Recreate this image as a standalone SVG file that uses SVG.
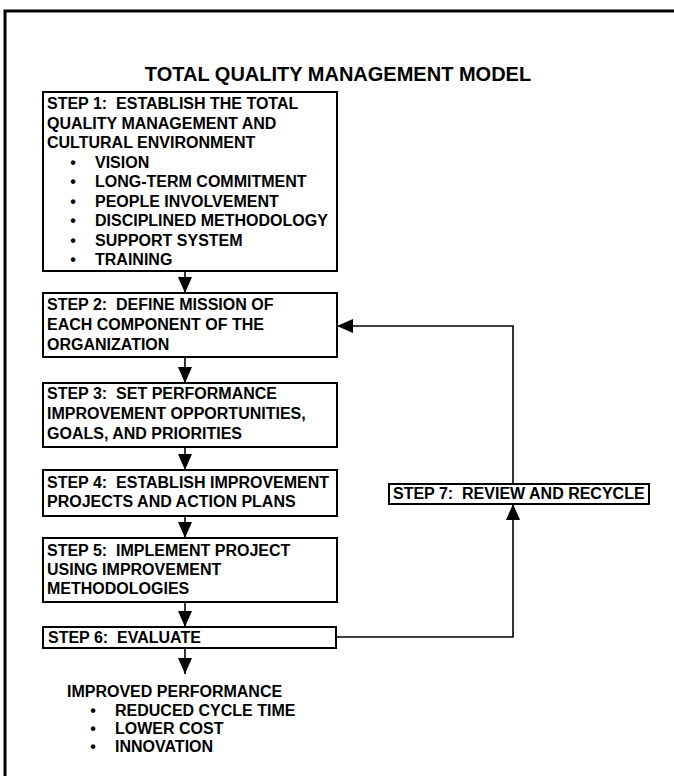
<svg xmlns="http://www.w3.org/2000/svg" width="674" height="776" viewBox="0 0 674 776">
<defs>
<style>
.t{font-family:"Liberation Sans",Arial,sans-serif;font-weight:bold;font-size:16px;fill:#000;white-space:pre}
.title{font-family:"Liberation Sans",Arial,sans-serif;font-weight:bold;font-size:20px;fill:#000}
.box{fill:#fff;stroke:#000;stroke-width:2}
.ln{fill:none;stroke:#000;stroke-width:1.6}
.ah{fill:#000}
</style>
<marker id="arr" viewBox="0 0 16 16" refX="16" refY="8" markerWidth="16" markerHeight="16" markerUnits="userSpaceOnUse" orient="auto">
<path d="M0,1 L16,8 L0,15 Z" class="ah"/>
</marker>
</defs>
<rect x="0" y="0" width="674" height="776" fill="#fff"/>
<path d="M5,776 V11 H674" fill="none" stroke="#000" stroke-width="3"/>
<text class="title" x="338" y="81" text-anchor="middle">TOTAL QUALITY MANAGEMENT MODEL</text>

<g id="connectors">
<line class="ln" x1="185" y1="271" x2="185" y2="293" marker-end="url(#arr)"/>
<line class="ln" x1="185" y1="357" x2="185" y2="383" marker-end="url(#arr)"/>
<line class="ln" x1="185" y1="447" x2="185" y2="470" marker-end="url(#arr)"/>
<line class="ln" x1="185" y1="516" x2="185" y2="538" marker-end="url(#arr)"/>
<line class="ln" x1="185" y1="602" x2="185" y2="627" marker-end="url(#arr)"/>
<line class="ln" x1="185" y1="648" x2="185" y2="674" marker-end="url(#arr)"/>
<path class="ln" d="M336,637 H513 V504" marker-end="url(#arr)"/>
<path class="ln" d="M513,484 V326 H337" marker-end="url(#arr)"/>
</g>

<g id="step1">
<rect class="box" x="43" y="92" width="294" height="179"/>
<text class="t" x="47" y="109" xml:space="preserve">STEP 1:  ESTABLISH THE TOTAL</text>
<text class="t" x="47" y="128.5">QUALITY MANAGEMENT AND</text>
<text class="t" x="47" y="148">CULTURAL ENVIRONMENT</text>
<text class="t" x="73" y="167.5" text-anchor="middle">•</text><text class="t" x="95" y="167.5">VISION</text>
<text class="t" x="73" y="187" text-anchor="middle">•</text><text class="t" x="95" y="187">LONG-TERM COMMITMENT</text>
<text class="t" x="73" y="206.5" text-anchor="middle">•</text><text class="t" x="95" y="206.5">PEOPLE INVOLVEMENT</text>
<text class="t" x="73" y="226" text-anchor="middle">•</text><text class="t" x="95" y="226">DISCIPLINED METHODOLOGY</text>
<text class="t" x="73" y="245.5" text-anchor="middle">•</text><text class="t" x="95" y="245.5">SUPPORT SYSTEM</text>
<text class="t" x="73" y="265" text-anchor="middle">•</text><text class="t" x="95" y="265">TRAINING</text>
</g>

<g id="step2">
<rect class="box" x="43" y="293" width="294" height="64"/>
<text class="t" x="47" y="310" xml:space="preserve">STEP 2:  DEFINE MISSION OF</text>
<text class="t" x="47" y="330">EACH COMPONENT OF THE</text>
<text class="t" x="47" y="350">ORGANIZATION</text>
</g>

<g id="step3">
<rect class="box" x="43" y="383" width="294" height="64"/>
<text class="t" x="47" y="399" xml:space="preserve">STEP 3:  SET PERFORMANCE</text>
<text class="t" x="47" y="419">IMPROVEMENT OPPORTUNITIES,</text>
<text class="t" x="47" y="439">GOALS, AND PRIORITIES</text>
</g>

<g id="step4">
<rect class="box" x="43" y="470" width="294" height="46"/>
<text class="t" x="47" y="488" xml:space="preserve">STEP 4:  ESTABLISH IMPROVEMENT</text>
<text class="t" x="47" y="507">PROJECTS AND ACTION PLANS</text>
</g>

<g id="step5">
<rect class="box" x="43" y="538" width="294" height="64"/>
<text class="t" x="47" y="556" xml:space="preserve">STEP 5:  IMPLEMENT PROJECT</text>
<text class="t" x="47" y="575">USING IMPROVEMENT</text>
<text class="t" x="47" y="594">METHODOLOGIES</text>
</g>

<g id="step6">
<rect class="box" x="43" y="627" width="293" height="21"/>
<text class="t" x="48" y="643" xml:space="preserve">STEP 6:  EVALUATE</text>
</g>

<g id="step7">
<rect class="box" x="389" y="484" width="260" height="20"/>
<text class="t" x="393" y="499" xml:space="preserve">STEP 7:  REVIEW AND RECYCLE</text>
</g>

<g id="result">
<text class="t" x="67" y="697">IMPROVED PERFORMANCE</text>
<text class="t" x="93" y="716" text-anchor="middle">•</text><text class="t" x="115" y="716">REDUCED CYCLE TIME</text>
<text class="t" x="93" y="734" text-anchor="middle">•</text><text class="t" x="115" y="734">LOWER COST</text>
<text class="t" x="93" y="752" text-anchor="middle">•</text><text class="t" x="115" y="752">INNOVATION</text>
</g>
</svg>
